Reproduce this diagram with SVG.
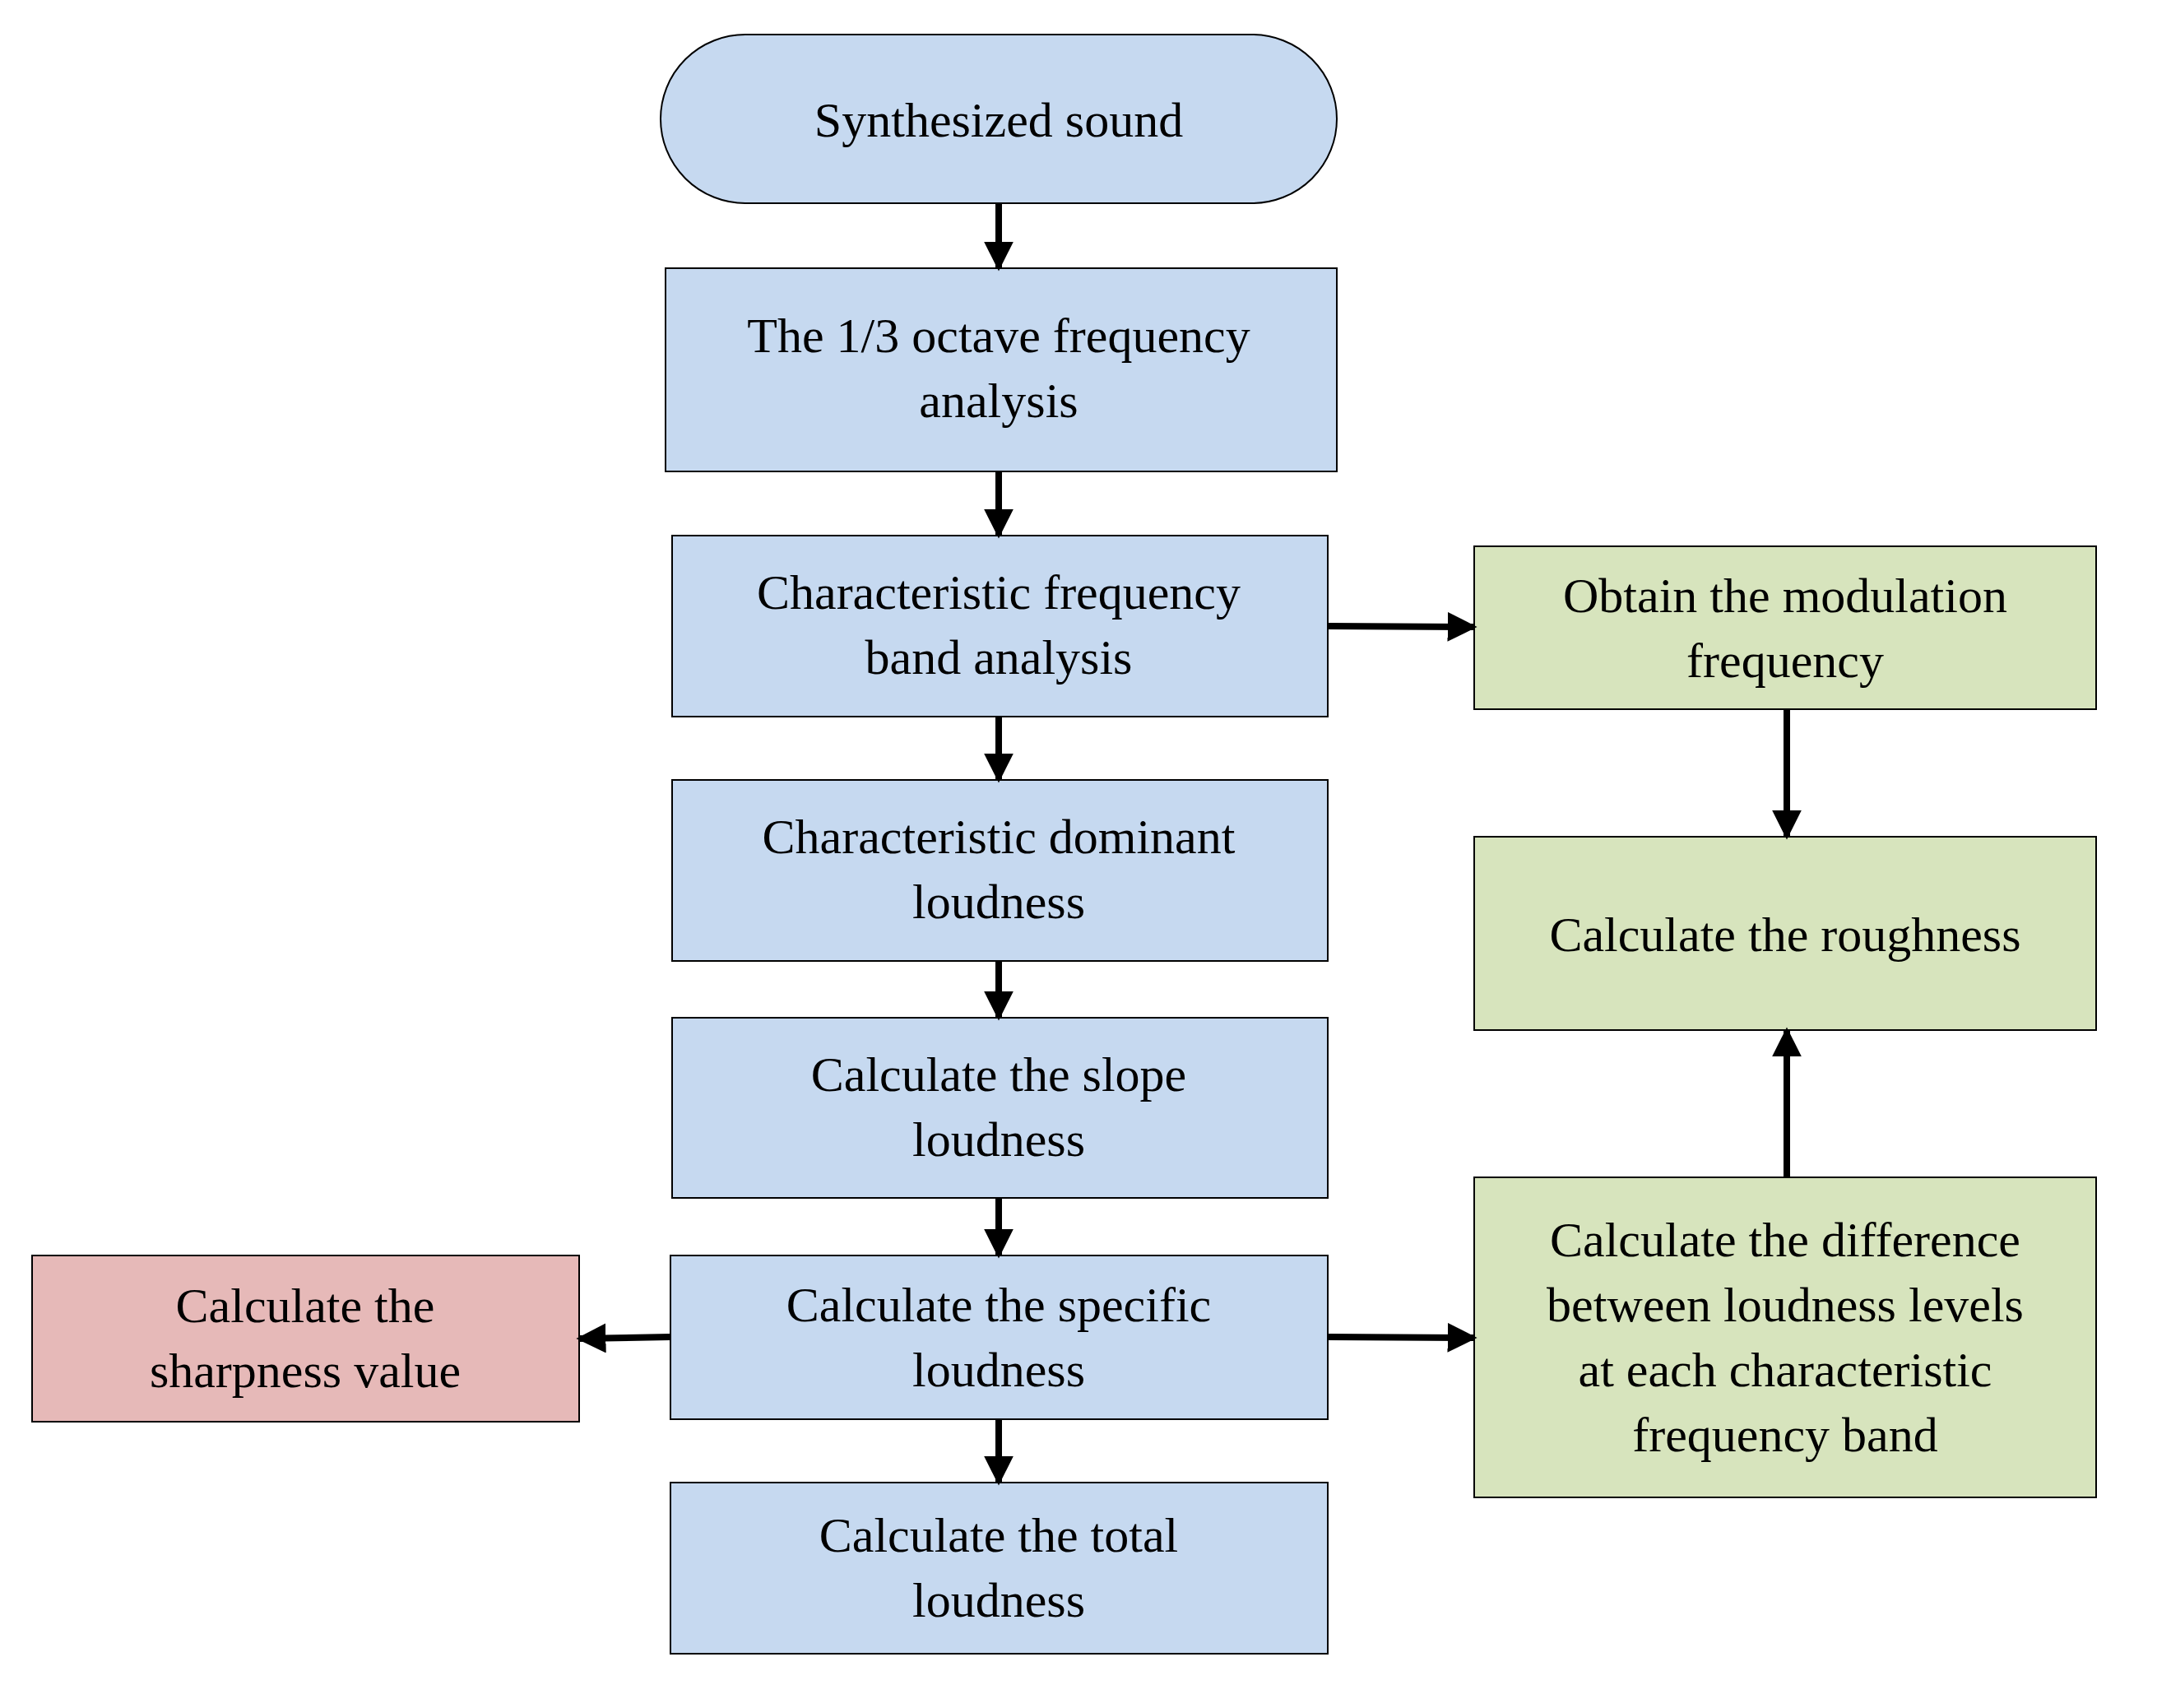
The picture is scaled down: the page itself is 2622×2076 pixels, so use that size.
<svg xmlns="http://www.w3.org/2000/svg" width="2622" height="2076" viewBox="0 0 2622 2076">
<style>
.b{fill:#C6D9F0;stroke:#000;stroke-width:2}
.g{fill:#D7E4BD;stroke:#000;stroke-width:2}
.r{fill:#E6B9B8;stroke:#000;stroke-width:2}
text{font-family:"Liberation Serif","DejaVu Serif",serif;font-size:60px;fill:#000;text-anchor:middle}
.c line{stroke:#000;stroke-width:8}
</style>
<defs><marker id="a" viewBox="0 0 10 10" refX="9" refY="5" markerWidth="4.5" markerHeight="4.5" orient="auto" markerUnits="strokeWidth"><path d="M0,0L10,5L0,10z" fill="#000"/></marker></defs>
<rect width="2622" height="2076" fill="#fff"/>
<g id="n0"><rect class="b" x="803" y="42" width="822" height="205" rx="103"/><text x="1214" y="166">Synthesized sound</text></g>
<g id="n1"><rect class="b" x="809" y="326" width="816" height="247"/><text x="1214" y="428">The 1/3 octave frequency</text><text x="1214" y="507">analysis</text></g>
<g id="n2"><rect class="b" x="817" y="651" width="797" height="220"/><text x="1214" y="740">Characteristic frequency</text><text x="1214" y="819">band analysis</text></g>
<g id="n3"><rect class="b" x="817" y="948" width="797" height="220"/><text x="1214" y="1037">Characteristic dominant</text><text x="1214" y="1116">loudness</text></g>
<g id="n4"><rect class="b" x="817" y="1237" width="797" height="219"/><text x="1214" y="1326">Calculate the slope</text><text x="1214" y="1405">loudness</text></g>
<g id="n5"><rect class="b" x="815" y="1526" width="799" height="199"/><text x="1214" y="1606">Calculate the specific</text><text x="1214" y="1685">loudness</text></g>
<g id="n6"><rect class="b" x="815" y="1802" width="799" height="208"/><text x="1214" y="1886">Calculate the total</text><text x="1214" y="1965">loudness</text></g>
<g id="n7"><rect class="r" x="39" y="1526" width="665" height="202"/><text x="371" y="1607">Calculate the</text><text x="371" y="1686">sharpness value</text></g>
<g id="n8"><rect class="g" x="1792" y="664" width="756" height="198"/><text x="2170" y="744">Obtain the modulation</text><text x="2170" y="823">frequency</text></g>
<g id="n9"><rect class="g" x="1792" y="1017" width="756" height="235"/><text x="2170" y="1156">Calculate the roughness</text></g>
<g id="n10"><rect class="g" x="1792" y="1431" width="756" height="389"/><text x="2170" y="1527">Calculate the difference</text><text x="2170" y="1606">between loudness levels</text><text x="2170" y="1685">at each characteristic</text><text x="2170" y="1764">frequency band</text></g>
<g class="c" id="connectors">
<line x1="1214" y1="247" x2="1214" y2="326" marker-end="url(#a)"/>
<line x1="1214" y1="573" x2="1214" y2="651" marker-end="url(#a)"/>
<line x1="1214" y1="871" x2="1214" y2="948" marker-end="url(#a)"/>
<line x1="1214" y1="1168" x2="1214" y2="1237" marker-end="url(#a)"/>
<line x1="1214" y1="1456" x2="1214" y2="1526" marker-end="url(#a)"/>
<line x1="1214" y1="1725" x2="1214" y2="1802" marker-end="url(#a)"/>
<line x1="1614" y1="761" x2="1792" y2="762" marker-end="url(#a)"/>
<line x1="1614" y1="1625" x2="1792" y2="1626" marker-end="url(#a)"/>
<line x1="815" y1="1625" x2="704" y2="1627" marker-end="url(#a)"/>
<line x1="2172" y1="862" x2="2172" y2="1017" marker-end="url(#a)"/>
<line x1="2172" y1="1431" x2="2172" y2="1252" marker-end="url(#a)"/>
</g>
</svg>
